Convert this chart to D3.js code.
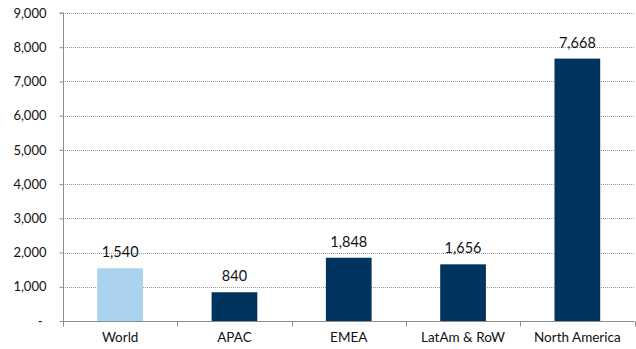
<!DOCTYPE html>
<html>
<head>
<meta charset="utf-8">
<script src="https://cdn.jsdelivr.net/npm/d3@7"></script>
<style>
  html, body { margin: 0; padding: 0; background: #fff; }
  svg { display: block; font-family: Lato, "Open Sans", sans-serif; }
</style>
</head>
<body>
<svg id="chart" width="636" height="349"></svg>
<script>
const categories = ["World", "APAC", "EMEA", "LatAm & RoW", "North America"];
const values = [1540, 840, 1848, 1656, 7668];
const barColors = ["#abd3f0", "#00335e", "#00335e", "#00335e", "#00335e"];
const yTicks = [0, 1000, 2000, 3000, 4000, 5000, 6000, 7000, 8000, 9000];

const svg = d3.select("#chart");
const margin = { left: 63, right: 1.5, top: 13, bottom: 28 };
const W = 636, H = 349;

const x = d3.scaleBand().domain(categories)
  .range([margin.left, W - margin.right]).paddingInner(0.6).paddingOuter(0.3);
const y = d3.scaleLinear().domain([0, 9000]).range([H - margin.bottom, margin.top]);

const fmt = d3.format(",");

// dotted gridlines
svg.append("g").selectAll("line").data(yTicks.slice(1)).join("line")
  .attr("x1", margin.left).attr("x2", W - 2)
  .attr("y1", d => Math.round(y(d)) + 0.5).attr("y2", d => Math.round(y(d)) + 0.5)
  .attr("stroke", "#9a9a9a").attr("stroke-width", 1).attr("stroke-dasharray", "1,1");

// bars
svg.append("g").selectAll("rect").data(categories).join("rect")
  .attr("x", d => x(d)).attr("width", x.bandwidth())
  .attr("y", (d, i) => y(values[i])).attr("height", (d, i) => y(0) - y(values[i]))
  .attr("fill", (d, i) => barColors[i]);

// value labels
svg.append("g").selectAll("text").data(categories).join("text")
  .attr("x", d => x(d) + x.bandwidth() / 2)
  .attr("y", (d, i) => y(values[i]) - 11)
  .attr("text-anchor", "middle").attr("font-size", 14.5).attr("fill", "#111")
  .text((d, i) => fmt(values[i]));

// y axis
const yAxis = d3.axisLeft(y).tickValues(yTicks).tickSize(4).tickPadding(13)
  .tickFormat(d => d === 0 ? "-" : fmt(d));
const gy = svg.append("g").attr("transform", `translate(${margin.left + 0.5},0)`).call(yAxis);
gy.select(".domain").attr("stroke", "#8c8c8c").attr("d", `M-4,${y(9000)}H0V${y(0)}`);
gy.selectAll(".tick line").attr("stroke", "#8c8c8c");
gy.selectAll(".tick text").attr("font-size", 13).attr("fill", "#111")
  .attr("font-family", "Lato, 'Open Sans', sans-serif")
  .attr("dx", d => d === 0 ? -4 : 0);

// x axis with ticks at category boundaries
const bandStep = x.step();
const baseY = Math.round(y(0)) + 0.5;
const gx = svg.append("g");
gx.append("line").attr("x1", margin.left).attr("x2", W - margin.right)
  .attr("y1", baseY).attr("y2", baseY).attr("stroke", "#8c8c8c");
gx.selectAll("line.sep").data(d3.range(categories.length + 1)).join("line")
  .attr("class", "sep")
  .attr("x1", i => Math.round(margin.left + i * bandStep) + 0.5)
  .attr("x2", i => Math.round(margin.left + i * bandStep) + 0.5)
  .attr("y1", baseY).attr("y2", baseY + 5).attr("stroke", "#8c8c8c");
gx.selectAll("text").data(categories).join("text")
  .attr("x", d => x(d) + x.bandwidth() / 2)
  .attr("y", H - 7)
  .attr("text-anchor", "middle").attr("font-size", 13.5).attr("fill", "#111")
  .text(d => d);
</script>
</body>
</html>
